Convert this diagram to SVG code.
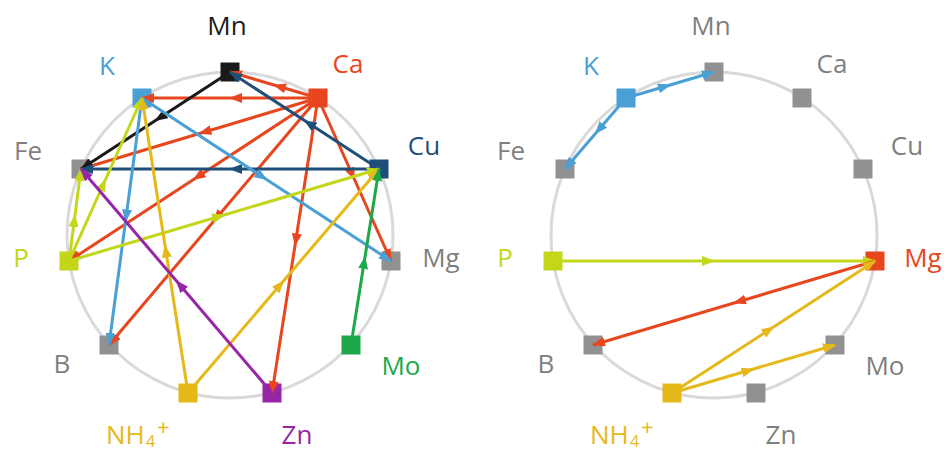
<svg xmlns="http://www.w3.org/2000/svg" width="944" height="452" viewBox="0 0 944 452">
<style>
.ring{fill:none;stroke:#D9D9D9;stroke-width:3}
.lbl{font-family:"Open Sans","Noto Sans","Liberation Sans",sans-serif;font-size:26px;text-anchor:middle}
.st{text-anchor:start}
.e{fill:none;stroke-width:3;stroke-linecap:butt}
.gray{fill:#919191}.tgray{fill:#7F7F7F}
.or{stroke:#E8461E}.bk{stroke:#1A1A1A}.db{stroke:#1F4E79}.bl{stroke:#4A9FD5}.li{stroke:#C4D61A}.go{stroke:#E5B91A}.pu{stroke:#9626A6}.gr{stroke:#1DA84A}
</style>
<defs>
<marker id="a-or" markerUnits="userSpaceOnUse" markerWidth="13" markerHeight="10" refX="12" refY="5" orient="auto"><path d="M0,0 L13,5 L0,10 z" fill="#E8461E"/></marker>
<marker id="a-bk" markerUnits="userSpaceOnUse" markerWidth="13" markerHeight="10" refX="12" refY="5" orient="auto"><path d="M0,0 L13,5 L0,10 z" fill="#1A1A1A"/></marker>
<marker id="a-db" markerUnits="userSpaceOnUse" markerWidth="13" markerHeight="10" refX="12" refY="5" orient="auto"><path d="M0,0 L13,5 L0,10 z" fill="#1F4E79"/></marker>
<marker id="a-bl" markerUnits="userSpaceOnUse" markerWidth="13" markerHeight="10" refX="12" refY="5" orient="auto"><path d="M0,0 L13,5 L0,10 z" fill="#4A9FD5"/></marker>
<marker id="a-li" markerUnits="userSpaceOnUse" markerWidth="13" markerHeight="10" refX="12" refY="5" orient="auto"><path d="M0,0 L13,5 L0,10 z" fill="#C4D61A"/></marker>
<marker id="a-go" markerUnits="userSpaceOnUse" markerWidth="13" markerHeight="10" refX="12" refY="5" orient="auto"><path d="M0,0 L13,5 L0,10 z" fill="#E5B91A"/></marker>
<marker id="a-pu" markerUnits="userSpaceOnUse" markerWidth="13" markerHeight="10" refX="12" refY="5" orient="auto"><path d="M0,0 L13,5 L0,10 z" fill="#9626A6"/></marker>
<marker id="a-gr" markerUnits="userSpaceOnUse" markerWidth="13" markerHeight="10" refX="12" refY="5" orient="auto"><path d="M0,0 L13,5 L0,10 z" fill="#1DA84A"/></marker>
</defs>
<rect width="944" height="452" fill="#FFFFFF"/>
<circle class="ring" cx="230" cy="235" r="163"/>
<circle class="ring" cx="714" cy="235" r="163"/>

<g id="left-nodes">
<g id="L-Mn"><rect x="220.5" y="62.5" width="19" height="19" fill="#1A1A1A"/><text class="lbl" x="227" y="35" fill="#1A1A1A">Mn</text></g>
<g id="L-K"><rect x="132.5" y="88.5" width="19" height="19" fill="#4A9FD5"/><text class="lbl" x="107" y="75" fill="#4A9FD5">K</text></g>
<g id="L-Ca"><rect x="308.5" y="88.5" width="19" height="19" fill="#E8461E"/><text class="lbl" x="348" y="73" fill="#E8461E">Ca</text></g>
<g id="L-Fe"><rect x="71.5" y="159.5" width="19" height="19" class="gray"/><text class="lbl tgray" x="28" y="160">Fe</text></g>
<g id="L-Cu"><rect x="369.5" y="159.5" width="19" height="19" fill="#1F4E79"/><text class="lbl" x="424" y="155" fill="#1F4E79">Cu</text></g>
<g id="L-P"><rect x="59.5" y="251.5" width="19" height="19" fill="#C4D61A"/><text class="lbl" x="21" y="267" fill="#C4D61A">P</text></g>
<g id="L-Mg"><rect x="381.5" y="251.5" width="19" height="19" class="gray"/><text class="lbl tgray" x="441" y="267">Mg</text></g>
<g id="L-B"><rect x="99.5" y="335.5" width="19" height="19" class="gray"/><text class="lbl tgray" x="62" y="373">B</text></g>
<g id="L-Mo"><rect x="341.5" y="335.5" width="19" height="19" fill="#1DA84A"/><text class="lbl" x="401" y="375" fill="#1DA84A">Mo</text></g>
<g id="L-NH4"><rect x="178.5" y="383.5" width="19" height="19" fill="#E5B91A"/><text class="lbl st" x="106" y="444" fill="#E5B91A">NH</text><text class="lbl st" x="146" y="447" fill="#E5B91A" style="font-size:16px">4</text><text class="lbl st" x="157" y="435" fill="#E5B91A" style="font-size:22px">+</text></g>
<g id="L-Zn"><rect x="262.5" y="383.5" width="19" height="19" fill="#9626A6"/><text class="lbl" x="297" y="444" fill="#9626A6">Zn</text></g>
</g>

<g id="right-nodes">
<g id="R-Mn"><rect x="704.5" y="62.5" width="19" height="19" class="gray"/><text class="lbl tgray" x="711" y="35">Mn</text></g>
<g id="R-K"><rect x="616.5" y="88.5" width="19" height="19" fill="#4A9FD5"/><text class="lbl" x="591" y="75" fill="#4A9FD5">K</text></g>
<g id="R-Ca"><rect x="792.5" y="88.5" width="19" height="19" class="gray"/><text class="lbl tgray" x="832" y="73">Ca</text></g>
<g id="R-Fe"><rect x="555.5" y="159.5" width="19" height="19" class="gray"/><text class="lbl tgray" x="511" y="160">Fe</text></g>
<g id="R-Cu"><rect x="853.5" y="159.5" width="19" height="19" class="gray"/><text class="lbl tgray" x="907" y="155">Cu</text></g>
<g id="R-P"><rect x="543.5" y="251.5" width="19" height="19" fill="#C4D61A"/><text class="lbl" x="505" y="267" fill="#C4D61A">P</text></g>
<g id="R-Mg"><rect x="865.5" y="251.5" width="19" height="19" fill="#E8461E"/><text class="lbl" x="923" y="267" fill="#E8461E">Mg</text></g>
<g id="R-B"><rect x="583.5" y="335.5" width="19" height="19" class="gray"/><text class="lbl tgray" x="546" y="373">B</text></g>
<g id="R-Mo"><rect x="825.5" y="335.5" width="19" height="19" class="gray"/><text class="lbl tgray" x="885" y="375">Mo</text></g>
<g id="R-NH4"><rect x="662.5" y="383.5" width="19" height="19" fill="#E5B91A"/><text class="lbl st" x="590" y="444" fill="#E5B91A">NH</text><text class="lbl st" x="630" y="447" fill="#E5B91A" style="font-size:16px">4</text><text class="lbl st" x="641" y="435" fill="#E5B91A" style="font-size:22px">+</text></g>
<g id="R-Zn"><rect x="746.5" y="383.5" width="19" height="19" class="gray"/><text class="lbl tgray" x="781" y="444">Zn</text></g>
</g>

<g id="connectors">
<path class="e or" marker-mid="url(#a-or)" marker-end="url(#a-or)" d="M318,98 L274,85 L230,72"/>
<path class="e or" marker-mid="url(#a-or)" marker-end="url(#a-or)" d="M318,98 L230,98 L142,98"/>
<path class="e or" marker-mid="url(#a-or)" marker-end="url(#a-or)" d="M318,98 L199.5,133.5 L81,169"/>
<path class="e or" marker-mid="url(#a-or)" marker-end="url(#a-or)" d="M318,98 L193.5,179.5 L69,261"/>
<path class="e or" marker-mid="url(#a-or)" marker-end="url(#a-or)" d="M318,98 L213.5,221.5 L109,345"/>
<path class="e or" marker-mid="url(#a-or)" marker-end="url(#a-or)" d="M318,98 L295,245.5 L272,393"/>
<path class="e or" marker-mid="url(#a-or)" marker-end="url(#a-or)" d="M318,98 L354.5,179.5 L391,261"/>
<path class="e bk" marker-mid="url(#a-bk)" marker-end="url(#a-bk)" d="M230,72 L155.5,120.5 L81,169"/>
<path class="e db" marker-mid="url(#a-db)" marker-end="url(#a-db)" d="M379,169 L304.5,120.5 L230,72"/>
<path class="e db" marker-mid="url(#a-db)" marker-end="url(#a-db)" d="M379,169 L230,169 L81,169"/>
<path class="e bl" marker-mid="url(#a-bl)" marker-end="url(#a-bl)" d="M142,98 L266.5,179.5 L391,261"/>
<path class="e bl" marker-mid="url(#a-bl)" marker-end="url(#a-bl)" d="M142,98 L125.5,221.5 L109,345"/>
<path class="e li" marker-mid="url(#a-li)" marker-end="url(#a-li)" d="M69,261 L75,215 L81,169"/>
<path class="e li" marker-mid="url(#a-li)" marker-end="url(#a-li)" d="M69,261 L105.5,179.5 L142,98"/>
<path class="e li" marker-mid="url(#a-li)" marker-end="url(#a-li)" d="M69,261 L224,215 L379,169"/>
<path class="e go" marker-mid="url(#a-go)" marker-end="url(#a-go)" d="M188,393 L165,245.5 L142,98"/>
<path class="e go" marker-mid="url(#a-go)" marker-end="url(#a-go)" d="M188,393 L283.5,281 L379,169"/>
<path class="e pu" marker-mid="url(#a-pu)" marker-end="url(#a-pu)" d="M272,393 L176.5,281 L81,169"/>
<path class="e gr" marker-mid="url(#a-gr)" marker-end="url(#a-gr)" d="M351,345 L365,257 L379,169"/>

<path class="e bl" marker-mid="url(#a-bl)" marker-end="url(#a-bl)" d="M626,98 L670,85 L714,72"/>
<path class="e bl" marker-mid="url(#a-bl)" marker-end="url(#a-bl)" d="M626,98 L595.5,133.5 L565,169"/>
<path class="e li" marker-mid="url(#a-li)" marker-end="url(#a-li)" d="M553,261 L714,261 L875,261"/>
<path class="e or" marker-mid="url(#a-or)" marker-end="url(#a-or)" d="M875,261 L734,303 L593,345"/>
<path class="e go" marker-mid="url(#a-go)" marker-end="url(#a-go)" d="M672,393 L773.5,327 L875,261"/>
<path class="e go" marker-mid="url(#a-go)" marker-end="url(#a-go)" d="M672,393 L753.5,369 L835,345"/>
</g>
</svg>
